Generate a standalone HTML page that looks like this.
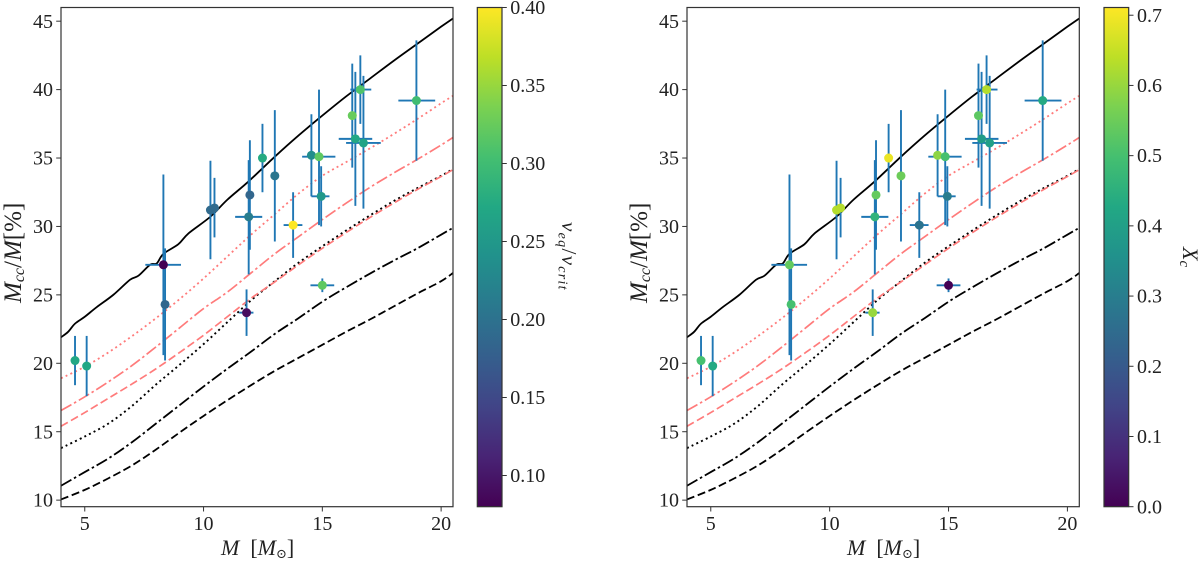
<!DOCTYPE html>
<html lang="en">
<head>
<meta charset="utf-8">
<title>Convective core mass versus stellar mass</title>
<style>
html,body{margin:0;padding:0;background:#fff;}
svg{display:block;}
text{font-family:"Liberation Serif","DejaVu Serif",serif;fill:#222;}
</style>
</head>
<body>
<svg id="figure" xmlns="http://www.w3.org/2000/svg" width="1200" height="563" viewBox="0 0 1200 563"></svg>
<script>
// ---- Observed stars ----
const starMass   = [4.59,5.08,8.31,8.38,10.29,10.46,11.90,11.95,12.48,13.00,13.77,14.54,14.86,14.95,15.00,11.81,16.26,16.39,16.60,16.73,18.96];
const starCore   = [20.2,19.8,27.2,24.3,31.2,31.35,30.7,32.3,35.0,33.7,30.1,35.2,35.1,32.2,25.7,23.7,38.1,36.4,40.0,36.1,39.2];
const coreHigh   = [22.0,22.0,33.8,28.4,34.8,33.55,34.85,36.3,37.5,38.5,32.5,38.2,40.0,34.4,26.2,25.4,41.9,41.3,42.5,41.0,43.6];
const coreLow    = [18.4,17.6,20.6,20.2,27.6,29.2,26.5,28.3,32.5,28.9,27.7,32.2,30.1,30.0,25.2,22.0,34.3,31.5,37.5,31.3,34.8];
const massLow    = [4.59,5.08,7.55,8.38,10.29,10.46,11.33,11.95,12.48,13.00,13.37,14.54,14.15,14.54,14.50,11.50,16.26,15.69,16.18,16.00,18.20];
const massHigh   = [4.59,5.08,9.05,8.38,10.29,10.46,12.47,11.95,12.48,13.00,14.16,14.54,15.55,15.30,15.50,12.10,16.26,17.10,17.06,17.46,19.75];
const velocityRatio = [0.27,0.27,0.08,0.185,0.19,0.19,0.215,0.185,0.275,0.205,0.40,0.235,0.32,0.25,0.32,0.09,0.325,0.27,0.31,0.265,0.30];
const coreHydrogen  = [0.50,0.43,0.54,0.50,0.63,0.63,0.46,0.54,0.69,0.55,0.27,0.59,0.50,0.30,0.00,0.60,0.53,0.39,0.63,0.40,0.43];

// ---- Model curves ----
const solidMass = [4,4.3,4.59,5,5.5,6.2,6.9,7.26,7.75,8.03,8.31,8.94,9.37,10.28,11,11.9,13,14,15,16,17,18,19,20,20.5];
const solidCore = [21.9,22.3,22.9,23.4,24.1,25,26.1,26.4,27.2,27.3,28,28.7,29.5,30.7,31.95,33.3,35.1,36.65,38.1,39.5,40.8,42.1,43.35,44.6,45.2];
const curveMass = [4,5,6,7,8,9,10,11,12,13,14,15,16,17,18,19,20,20.5];
const redDottedCore   = [18.9,19.75,20.8,22.0,23.3,24.7,26.2,27.8,29.4,30.9,32.4,33.7,34.7,35.7,36.75,37.85,39.0,39.55];
const redDashDotCore  = [16.55,17.55,18.65,19.85,21.2,22.6,24.0,25.2,26.6,28.0,29.25,30.5,31.7,32.85,33.9,34.9,35.95,36.5];
const redDashedCore   = [15.4,16.4,17.45,18.5,19.6,20.8,22.05,23.4,24.75,25.95,27.2,28.4,29.55,30.65,31.7,32.7,33.65,34.15];
const blackDottedCore = [13.8,14.65,15.6,16.9,18.45,19.9,21.4,23.0,24.6,26.0,27.35,28.55,29.7,30.8,31.85,32.8,33.7,34.2];
const blackDashDotCore= [11.05,12.05,13.05,14.25,15.6,16.95,18.3,19.6,20.85,22.15,23.3,24.5,25.55,26.55,27.5,28.4,29.4,29.9];
const blackDashedCore = [10.05,10.75,11.6,12.55,13.7,14.95,16.15,17.3,18.4,19.45,20.4,21.35,22.3,23.2,24.15,25.1,26.0,26.6];

// ---- Ticks ----
const massTicks = [5,10,15,20];
const coreTicks = [10,15,20,25,30,35,40,45];
const velocityTicks = ["0.10","0.15","0.20","0.25","0.30","0.35","0.40"];
const hydrogenTicks = ["0.0","0.1","0.2","0.3","0.4","0.5","0.6","0.7"];

// ---- Viridis colormap ----
const viridis = ["#440154","#482475","#414487","#355f8d","#2a788e","#21918c","#22a884","#44bf70","#7ad151","#bddf26","#fde725"];

const SVG_NS = "http://www.w3.org/2000/svg";
const fig = document.getElementById("figure");

function hexRgb(h){return [1,3,5].map(i=>parseInt(h.substr(i,2),16));}
function cmap(t){
  t=Math.max(0,Math.min(1,t));
  const p=t*(viridis.length-1),i=Math.min(Math.floor(p),viridis.length-2),f=p-i;
  const a=hexRgb(viridis[i]),b=hexRgb(viridis[i+1]);
  return "rgb("+a.map((v,k)=>Math.round(v+(b[k]-v)*f)).join(",")+")";
}
function make(tag,parent,attrs){
  const el=document.createElementNS(SVG_NS,tag);
  for(const k in attrs)el.setAttribute(k,attrs[k]);
  parent.appendChild(el);
  return el;
}
function smoothPath(pts){
  let d="M"+pts[0][0].toFixed(2)+" "+pts[0][1].toFixed(2);
  for(let i=0;i<pts.length-1;i++){
    const p0=pts[Math.max(i-1,0)],p1=pts[i],p2=pts[i+1],p3=pts[Math.min(i+2,pts.length-1)];
    const c1=[p1[0]+(p2[0]-p0[0])/6,p1[1]+(p2[1]-p0[1])/6];
    const c2=[p2[0]-(p3[0]-p1[0])/6,p2[1]-(p3[1]-p1[1])/6];
    d+="C"+c1[0].toFixed(2)+" "+c1[1].toFixed(2)+" "+c2[0].toFixed(2)+" "+c2[1].toFixed(2)+" "+p2[0].toFixed(2)+" "+p2[1].toFixed(2);
  }
  return d;
}
function addSpan(textEl,str,opts){
  const s=document.createElementNS(SVG_NS,"tspan");
  if(opts&&opts.italic)s.setAttribute("font-style","italic");
  if(opts&&opts.size)s.setAttribute("font-size",opts.size);
  if(opts&&opts.dy!==undefined)s.setAttribute("dy",opts.dy);
  s.textContent=str;
  textEl.appendChild(s);
}

function drawPanel(p,idx){
  const xMin=4,xMax=20.5,yMin=9.52,yMax=46;
  const sx=v=>p.left+(v-xMin)*(p.right-p.left)/(xMax-xMin);
  const sy=v=>506.7-(v-yMin)*(506.7-7.5)/(yMax-yMin);
  const g=make("g",fig,{});
  
  

  const clipId="clip"+idx;
  const defs=make("defs",g,{});
  const cp=make("clipPath",defs,{id:clipId});
  make("rect",cp,{x:p.left,y:7.5,width:p.right-p.left,height:499.2});

  const curveG=make("g",g,{"clip-path":"url(#"+clipId+")"});
  
  
  const curves=[
    {m:curveMass,c:blackDashedCore,col:"#000",w:1.8,dash:"8 3.5",n:"curve-black-dashed"},
    {m:curveMass,c:blackDashDotCore,col:"#000",w:1.8,dash:"12 3 2.5 3",n:"curve-black-dashdot"},
    {m:curveMass,c:blackDottedCore,col:"#000",w:1.9,dash:"2 3.2",n:"curve-black-dotted"},
    {m:curveMass,c:redDashedCore,col:"#ff7b7b",w:1.7,dash:"8 3.5",n:"curve-red-dashed"},
    {m:curveMass,c:redDashDotCore,col:"#ff7b7b",w:1.7,dash:"12 3 2.5 3",n:"curve-red-dashdot"},
    {m:curveMass,c:redDottedCore,col:"#ff7b7b",w:1.8,dash:"2 3.2",n:"curve-red-dotted"},
    {m:solidMass,c:solidCore,col:"#000",w:1.8,dash:"none",n:"curve-black-solid"}
  ];
  curves.forEach(cv=>{
    const pts=cv.m.map((m,i)=>[sx(m),sy(cv.c[i])]);
    const path=make("path",curveG,{d:smoothPath(pts),fill:"none",stroke:cv.col,"stroke-width":cv.w,"stroke-dasharray":cv.dash});
    
    
  });

  const errG=make("g",g,{});
  
  
  starMass.forEach((m,i)=>{
    const v=make("line",errG,{x1:sx(m),x2:sx(m),y1:sy(coreLow[i]),y2:sy(coreHigh[i]),stroke:"#1f77b4","stroke-width":1.9});
    
    
    if(massHigh[i]>massLow[i]){
      const h=make("line",errG,{x1:sx(massLow[i]),x2:sx(massHigh[i]),y1:sy(starCore[i]),y2:sy(starCore[i]),stroke:"#1f77b4","stroke-width":1.9});
      
      
    }
  });

  const ptG=make("g",g,{});
  
  
  starMass.forEach((m,i)=>{
    const t=(p.color[i]-p.cMin)/(p.cMax-p.cMin);
    const c=make("circle",ptG,{cx:sx(m),cy:sy(starCore[i]),r:4.5,fill:cmap(t)});
    
    
  });

  const frame=make("rect",g,{x:p.left,y:7.5,width:p.right-p.left,height:499.2,fill:"none",stroke:"#333","stroke-width":1.2});
  
  

  massTicks.forEach(v=>{
    const t=make("line",g,{x1:sx(v),x2:sx(v),y1:506.7,y2:511.5,stroke:"#333","stroke-width":1});
    
    
    const l=make("text",g,{x:sx(v),y:530,"text-anchor":"middle","font-size":20});
    
    
    l.textContent=v;
  });
  coreTicks.forEach(v=>{
    const t=make("line",g,{x1:p.left-4.8,x2:p.left,y1:sy(v),y2:sy(v),stroke:"#333","stroke-width":1});
    
    
    const l=make("text",g,{x:p.left-8,y:sy(v)+6.6,"text-anchor":"end","font-size":20});
    
    
    l.textContent=v;
  });

  const xl=make("text",g,{x:p.xLabelX,y:555,"font-size":22});
  
  
  addSpan(xl,"M",{italic:true});
  addSpan(xl,"\u00A0\u00A0[");
  addSpan(xl,"M",{italic:true});
  addSpan(xl,"\u2299",{size:13,dy:3});
  addSpan(xl,"]",{dy:-3});

  const yl=make("text",g,{transform:"translate("+p.yLabelX+",303) rotate(-90)","font-size":25});
  
  
  addSpan(yl,"M",{italic:true});
  addSpan(yl,"cc",{italic:true,size:16,dy:3});
  addSpan(yl,"/",{dy:-3});
  addSpan(yl,"M",{italic:true});
  addSpan(yl,"[%]");

  // Colorbar
  const gradId="grad"+idx;
  const grad=make("linearGradient",defs,{id:gradId,x1:0,y1:1,x2:0,y2:0});
  viridis.forEach((c,i)=>{
    make("stop",grad,{offset:i/(viridis.length-1),"stop-color":c});
  });
  const bar=make("rect",g,{x:p.cbLeft,y:7.5,width:24.7,height:499.2,fill:"url(#"+gradId+")",stroke:"#333","stroke-width":1.2});
  
  
  const cy=v=>506.7-(v-p.cMin)*499.2/(p.cMax-p.cMin);
  p.ticks.forEach(lbl=>{
    const y=cy(parseFloat(lbl));
    const t=make("line",g,{x1:p.cbLeft+24.7,x2:p.cbLeft+29.5,y1:y,y2:y,stroke:"#333","stroke-width":1});
    
    
    const l=make("text",g,{x:p.cbLeft+33,y:y+6.6,"font-size":20});
    
    
    l.textContent=lbl;
  });
  const cl=make("text",g,{transform:p.cbLabelTransform,"font-size":p.cbLabelSize,"letter-spacing":p.cbSpacing});
  
  
  p.cbLabel(cl);
}

drawPanel({
  name:"panel-velocity-ratio",left:61,right:453,cbLeft:477.3,
  color:velocityRatio,cMin:0.08,cMax:0.40,ticks:velocityTicks,
  xLabelX:221,yLabelX:21,
  cbLabelTransform:"translate(562,222) rotate(90)",cbLabelSize:21,cbSpacing:1.3,
  cbLabel:function(t){
    addSpan(t,"v",{italic:true});
    addSpan(t,"eq",{italic:true,size:14,dy:3.5});
    addSpan(t,"/",{dy:-3.5});
    addSpan(t,"v",{italic:true});
    addSpan(t,"crit",{italic:true,size:14,dy:3.5});
  }
},0);

drawPanel({
  name:"panel-core-hydrogen",left:687,right:1079.3,cbLeft:1104,
  color:coreHydrogen,cMin:0,cMax:0.711,ticks:hydrogenTicks,
  xLabelX:847,yLabelX:647,
  cbLabelTransform:"translate(1183,247) rotate(90)",cbLabelSize:22,cbSpacing:0,
  cbLabel:function(t){
    addSpan(t,"X",{italic:true});
    addSpan(t,"c",{italic:true,size:15,dy:3});
  }
},1);
</script>
</body>
</html>
